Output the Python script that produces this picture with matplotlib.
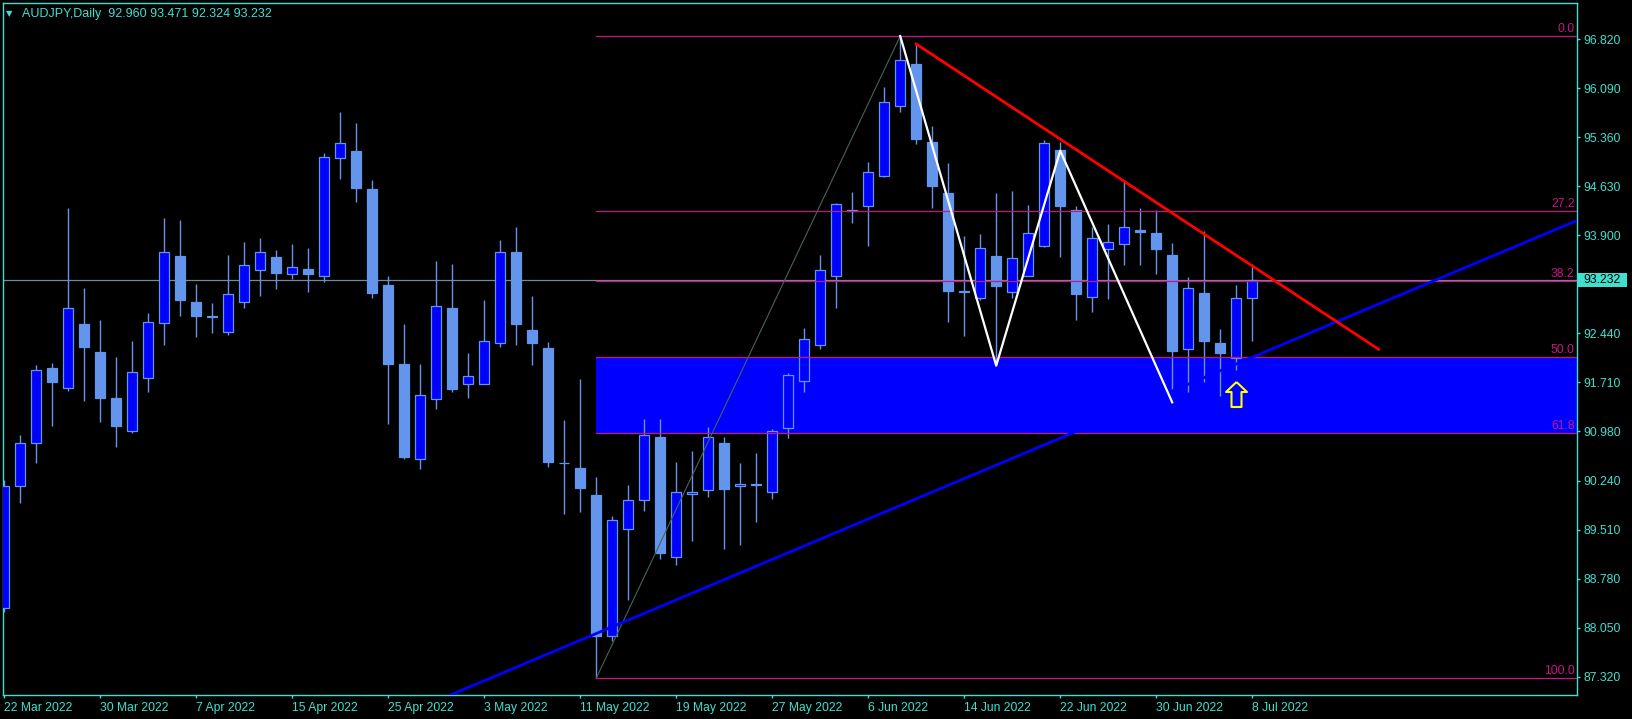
import matplotlib.pyplot as plt
import matplotlib.transforms as mtransforms
from matplotlib.patches import Rectangle
from matplotlib.path import Path
import numpy as np

plt.rcParams['font.family'] = ['Liberation Sans', 'DejaVu Sans']

# daily AUDJPY bars, 22 Mar 2022 .. 8 Jul 2022 (one bar per trading day)
opens = [88.35, 90.17, 90.80, 91.92, 91.63, 92.58, 92.16, 91.47, 90.99, 91.78,
         92.59, 93.59, 92.91, 92.69, 92.46, 92.91, 93.38, 93.58, 93.33, 93.39,
         93.29, 95.05, 95.15, 94.59, 93.16, 91.98, 90.57, 91.46, 92.82, 91.68,
         91.69, 92.29, 93.65, 92.49, 92.22, 90.51, 90.43, 90.03, 87.92, 89.52,
         89.95, 90.89, 89.10, 90.05, 90.11, 90.81, 90.16, 90.19, 90.07, 91.03,
         91.73, 92.27, 93.30, 94.28, 94.33, 94.79, 95.82, 96.45, 95.29, 94.53,
         93.05, 92.96, 93.59, 93.06, 93.30, 93.74, 95.17, 94.28, 92.98, 93.70,
         93.77, 93.98, 93.93, 93.60, 92.20, 93.04, 92.29, 92.07, 92.960]
highs = [90.25, 90.92, 91.96, 91.99, 94.31, 93.11, 92.64, 92.08, 92.32, 92.74,
         94.16, 94.12, 93.17, 92.89, 93.61, 93.80, 93.86, 93.68, 93.77, 93.71,
         95.13, 95.74, 95.57, 94.72, 93.29, 92.58, 91.98, 93.52, 93.47, 92.15,
         92.94, 93.83, 94.02, 93.00, 92.31, 91.15, 91.76, 90.30, 89.72, 90.18,
         91.16, 91.16, 90.52, 90.69, 91.04, 90.89, 90.51, 90.65, 91.01, 91.85,
         92.52, 93.60, 94.38, 94.55, 94.99, 96.11, 96.87, 96.75, 95.53, 94.97,
         93.89, 93.92, 94.53, 94.56, 94.35, 95.32, 95.29, 94.34, 94.03, 94.07,
         94.70, 94.30, 94.28, 93.78, 93.28, 93.97, 92.51, 93.16, 93.471]
lows = [88.29, 89.91, 90.51, 91.05, 91.58, 91.43, 91.12, 90.75, 90.96, 91.56,
        92.26, 92.70, 92.39, 92.45, 92.42, 92.82, 93.00, 93.10, 93.25, 93.05,
        93.21, 94.74, 94.39, 92.97, 91.09, 90.57, 90.42, 91.31, 91.56, 91.48,
        91.68, 92.23, 92.27, 91.97, 90.45, 89.74, 89.77, 87.30, 87.86, 88.46,
        89.79, 89.07, 88.98, 89.35, 90.00, 89.23, 89.29, 89.63, 89.97, 90.88,
        91.57, 92.20, 92.82, 94.09, 93.74, 94.77, 95.73, 95.26, 94.31, 92.60,
        92.40, 92.93, 91.96, 92.97, 93.30, 93.73, 93.57, 92.63, 92.76, 92.95,
        93.45, 93.45, 93.33, 91.60, 91.57, 91.72, 91.50, 91.89, 92.324]
closes = [90.17, 90.80, 91.89, 91.72, 92.81, 92.24, 91.48, 91.05, 91.86, 92.60,
          93.65, 92.94, 92.70, 92.68, 93.02, 93.45, 93.65, 93.34, 93.43, 93.33,
          95.06, 95.27, 94.61, 93.04, 91.98, 90.60, 91.52, 92.84, 91.61, 91.80,
          92.32, 93.65, 92.58, 92.30, 90.52, 90.50, 90.14, 87.92, 89.65, 89.96,
          90.92, 89.16, 90.07, 90.08, 90.89, 90.12, 90.19, 90.18, 90.98, 91.81,
          92.35, 93.38, 94.36, 94.26, 94.85, 95.88, 96.51, 95.34, 94.64, 93.07,
          93.07, 93.71, 93.15, 93.56, 93.93, 95.27, 94.34, 93.03, 93.86, 93.80,
          94.02, 93.95, 93.69, 92.17, 93.12, 92.33, 92.14, 92.96, 93.232]

date_bars = [0, 6, 12, 18, 24, 30, 36, 42, 48, 54, 60, 66, 72, 78]
date_labels = ['22 Mar 2022', '30 Mar 2022', '7 Apr 2022', '15 Apr 2022',
               '25 Apr 2022', '3 May 2022', '11 May 2022', '19 May 2022',
               '27 May 2022', '6 Jun 2022', '14 Jun 2022', '22 Jun 2022',
               '30 Jun 2022', '8 Jul 2022']
price_ticks = [96.820, 96.090, 95.360, 94.630, 93.900, 93.170, 92.440,
               91.710, 90.980, 90.240, 89.510, 88.780, 88.050, 87.320]

# objects drawn on the chart
fib_bars = [37, 56]
fib_prices = [87.297, 96.869]
fib_levels = [0.0, 27.2, 38.2, 50.0, 61.8, 100.0]
fib_names = ['0.0', '27,2', '38.2', '50.0', '61.8', '100.0']
red_bars = [57, 85.9]
red_prices = [96.75, 92.20]
blue_bars = [27.9, 98.3]
blue_prices = [87.05, 94.12]
zig_bars = [56, 62, 66, 73]
zig_prices = [96.869, 91.956, 95.16, 91.41]
arrow_bar = 77
arrow_price = 91.535
bid = closes[-1]

FG = '#40E0D0'
UP = '#0000FF'
WICK = '#6495ED'
FIBC = '#C71585'
FS = 8.7

W, H = 1633, 719
fig = plt.figure(figsize=(W / 100, H / 100), dpi=100, facecolor='black')
ax = fig.add_axes([2.7 / W, 24 / H, 1574 / W, 692.3 / H], facecolor='black')
x0, x1 = -0.094, 98.28
ax.set_xlim(x0, x1)
ax.set_ylim(87.048, 97.366)

# fibonacci zone 50 - 61.8 (background)
lo, hi = fib_prices
lev = {l: hi - l / 100 * (hi - lo) for l in fib_levels}
frac = (fib_bars[0] - x0) / (x1 - x0)
ax.axhspan(lev[61.8], lev[50.0], xmin=frac, xmax=1, color='#0000FF', zorder=0.5, lw=0)

# bid line
ax.axhline(bid, color='#778899', lw=0.9, zorder=1)

# candles
x = np.arange(len(opens))
o = np.array(opens); c = np.array(closes)
ax.vlines(x, lows, highs, color=WICK, lw=1, zorder=2)
faces = [UP if cc > oo else WICK for oo, cc in zip(o, c)]
ax.bar(x, np.abs(c - o), bottom=np.minimum(o, c), width=0.66, color=faces,
       edgecolor=WICK, linewidth=0.9, zorder=3)

# fibonacci levels
for l, name in zip(fib_levels, fib_names):
    ax.axhline(lev[l], xmin=frac, xmax=1, color=FIBC, lw=0.9, zorder=4)
    ax.annotate(name, xy=(1, lev[l]), xycoords=('axes fraction', 'data'),
                xytext=(-1.5, 1), textcoords='offset points', ha='right', va='bottom',
                color=FIBC, fontsize=FS)
ax.plot(fib_bars, fib_prices, color='#466458', lw=0.8, zorder=4)

# trend lines and zigzag
ax.plot(blue_bars, blue_prices, color='#0000FF', lw=2, zorder=5)
ax.plot(red_bars, red_prices, color='#FF0000', lw=2, zorder=5)
ax.plot(zig_bars, zig_prices, color='white', lw=1.6, zorder=5)

# hollow up arrow
arrow = Path([(0, 0.5), (0.42, 0.1), (0.2, 0.1), (0.2, -0.5), (-0.2, -0.5),
              (-0.2, 0.1), (-0.42, 0.1), (0, 0.5)])
ax.plot([arrow_bar], [arrow_price], marker=arrow, markersize=18, mfc='none',
        mec='yellow', mew=1.5, zorder=6)

# axes styling
for s in ax.spines.values():
    s.set_color(FG)
    s.set_linewidth(1)
ax.yaxis.tick_right()
ax.set_yticks(price_ticks)
# the 93.170 label sits under the current price box
ax.set_yticklabels(['' if abs(v - 93.17) < 1e-6 else f'{v:.3f}' for v in price_ticks])
ax.set_xticks(date_bars)
ax.set_xticklabels(date_labels)
for t in ax.get_xticklabels():
    t.set_horizontalalignment('left')
ax.tick_params(colors=FG, length=2.5, width=1, labelsize=FS, pad=2.5)

# current price box
tr = mtransforms.blended_transform_factory(ax.transAxes, ax.transData)
ax.add_patch(Rectangle((1.0006, bid - 0.105), 0.0311, 0.21, transform=tr,
                       clip_on=False, fc=FG, ec='none', zorder=10))
ax.text(1.0162, bid, f'{bid:.3f}', transform=tr, ha='center', va='center',
        color='black', fontsize=FS, zorder=11, clip_on=False)

# header
fig.text(6 / W, 1 - 14 / H, '\u25bc', family='DejaVu Sans', fontsize=6, color=FG, va='center')
fig.text(21.7 / W, 1 - 17.3 / H,
         f'AUDJPY,Daily  {opens[-1]:.3f} {highs[-1]:.3f} {lows[-1]:.3f} {closes[-1]:.3f}',
         color=FG, fontsize=FS + 0.3, va='baseline')

fig.savefig('out.png', dpi=100, facecolor='black')
